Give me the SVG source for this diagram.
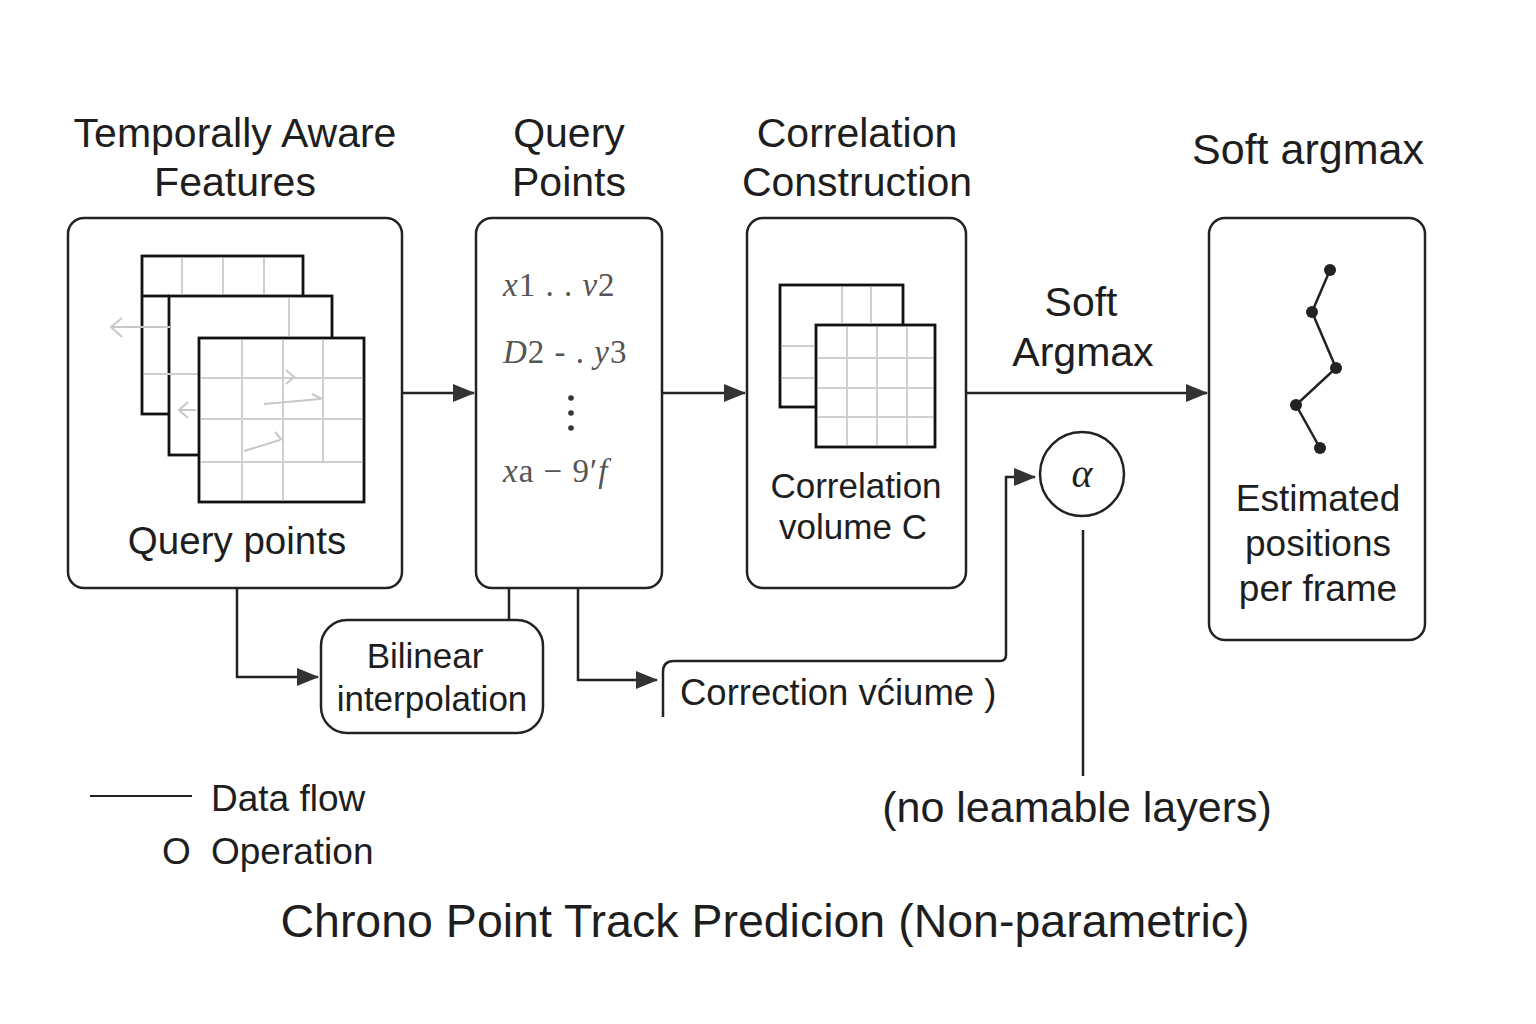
<svg xmlns="http://www.w3.org/2000/svg" width="1536" height="1024" viewBox="0 0 1536 1024">
<style>
text{font-family:"Liberation Sans",Arial,sans-serif;fill:#1e1e1e}
.box{fill:#fff;stroke:#222;stroke-width:2.5}
.frame{fill:#fff;stroke:#111;stroke-width:2.8}
.grid{stroke:#cfcfcf;stroke-width:2;fill:none}
.faint{stroke:#c8c8c8;stroke-width:2;fill:none}
.ln{stroke:#222;stroke-width:2.5;fill:none}
.h{font-size:41px;text-anchor:middle}
.lbl{font-size:35px;text-anchor:middle}
.math{font-family:"Liberation Serif","DejaVu Serif",serif;font-size:33px;fill:#555;letter-spacing:1px}
.mi{font-style:italic}
</style>
<defs>
<marker id="ah" markerWidth="10" markerHeight="10" refX="9" refY="5" orient="auto" markerUnits="userSpaceOnUse" viewBox="0 0 10 10">
<path d="M0,0 L10,5 L0,10 z" fill="#333"/>
</marker>
<marker id="ahL" markerWidth="22" markerHeight="18" refX="21" refY="9" orient="auto" markerUnits="userSpaceOnUse" viewBox="0 0 22 18">
<path d="M0,0 L22,9 L0,18 z" fill="#333"/>
</marker>
</defs>
<rect width="1536" height="1024" fill="#fff"/>

<g id="headers">
<text class="h" x="235" y="147">Temporally Aware</text>
<text class="h" x="235" y="196">Features</text>
<text class="h" x="569" y="147">Query</text>
<text class="h" x="569" y="196">Points</text>
<text class="h" x="857" y="147">Correlation</text>
<text class="h" x="857" y="196">Construction</text>
<text class="h" x="1308" y="164" style="font-size:43px">Soft argmax</text>
</g>

<g id="connectors">
<line class="ln" x1="402" y1="393" x2="474" y2="393" marker-end="url(#ahL)"/>
<line class="ln" x1="662" y1="393" x2="745" y2="393" marker-end="url(#ahL)"/>
<line class="ln" x1="966" y1="393" x2="1207" y2="393" marker-end="url(#ahL)"/>
<polyline class="ln" points="237,588 237,677 318,677" marker-end="url(#ahL)"/>
<polyline class="ln" points="509,620 509,525 590,525" marker-end="url(#ah)"/>
<polyline class="ln" points="578,588 578,680 657,680" marker-end="url(#ahL)"/>
<path class="ln" d="M663,717 L663,672 Q663,661 674,661 L1000,661 Q1006,661 1006,655 L1006,477 L1035,477" marker-end="url(#ahL)"/>
<line class="ln" x1="1083" y1="530" x2="1083" y2="776"/>
</g>

<g id="node-features">
<rect class="box" x="68" y="218" width="334" height="370" rx="16"/>
<rect class="frame" x="142" y="256" width="161" height="158"/>
<line class="grid" x1="182" y1="258" x2="182" y2="294"/>
<line class="grid" x1="223" y1="258" x2="223" y2="294"/>
<line class="grid" x1="264" y1="258" x2="264" y2="294"/>
<rect class="frame" x="169" y="296" width="163" height="159"/>
<line class="frame" x1="142" y1="296" x2="169" y2="296"/>
<line class="grid" x1="289" y1="298" x2="289" y2="336"/>
<line class="grid" x1="144" y1="374" x2="199" y2="374"/>
<path class="faint" d="M170,327 L112,327 M122,318 L111,327 L122,337"/>
<path class="faint" d="M196,410 L180,410 M188,402 L179,410 L188,418"/>
<rect class="frame" x="199" y="338" width="165" height="164"/>
<line class="grid" x1="242" y1="340" x2="242" y2="500"/>
<line class="grid" x1="283" y1="340" x2="283" y2="500"/>
<line class="grid" x1="323" y1="340" x2="323" y2="462"/>
<line class="grid" x1="201" y1="378" x2="362" y2="378"/>
<line class="grid" x1="201" y1="419" x2="362" y2="419"/>
<line class="grid" x1="201" y1="462" x2="362" y2="462"/>
<path class="faint" d="M264,404 L320,399 M312,394 L322,399 M286,370 L294,377 L286,384 M244,451 L280,440 M275,432 L282,440"/>
<text class="lbl" x="237" y="554" style="font-size:38.5px">Query points</text>
</g>

<g id="node-query">
<rect class="box" x="476" y="218" width="186" height="370" rx="16"/>
<text class="math" x="503" y="296"><tspan class="mi">x</tspan>1 . . <tspan class="mi">v</tspan>2</text>
<text class="math" x="503" y="363"><tspan class="mi">D</tspan>2 - . <tspan class="mi">y</tspan>3</text>
<circle cx="571" cy="398" r="2.8" fill="#333"/>
<circle cx="571" cy="413" r="2.8" fill="#333"/>
<circle cx="571" cy="428" r="2.8" fill="#333"/>
<text class="math" x="503" y="482"><tspan class="mi">x</tspan>a − 9′<tspan class="mi">f</tspan></text>
</g>

<g id="node-correlation">
<rect class="box" x="747" y="218" width="219" height="370" rx="16"/>
<rect class="frame" x="780" y="285" width="123" height="122"/>
<line class="grid" x1="842" y1="287" x2="842" y2="323"/>
<line class="grid" x1="871" y1="287" x2="871" y2="323"/>
<line class="grid" x1="782" y1="346" x2="814" y2="346"/>
<line class="grid" x1="782" y1="378" x2="814" y2="378"/>
<rect class="frame" x="816" y="325" width="119" height="122"/>
<line class="grid" x1="847" y1="327" x2="847" y2="445"/>
<line class="grid" x1="877" y1="327" x2="877" y2="445"/>
<line class="grid" x1="907" y1="327" x2="907" y2="445"/>
<line class="grid" x1="818" y1="358" x2="933" y2="358"/>
<line class="grid" x1="818" y1="388" x2="933" y2="388"/>
<line class="grid" x1="818" y1="417" x2="933" y2="417"/>
<text class="lbl" x="856" y="498">Correlation</text>
<text class="lbl" x="853" y="539">volume C</text>
</g>

<g id="node-softargmax-label">
<text class="h" x="1081" y="316">Soft</text>
<text class="h" x="1083" y="366">Argmax</text>
</g>

<g id="node-estimated">
<rect class="box" x="1209" y="218" width="216" height="422" rx="16"/>
<polyline points="1330,270 1312,312 1336,368 1296,405 1320,448" fill="none" stroke="#222" stroke-width="2.5"/>
<circle cx="1330" cy="270" r="6" fill="#222"/>
<circle cx="1312" cy="312" r="6" fill="#222"/>
<circle cx="1336" cy="368" r="6" fill="#222"/>
<circle cx="1296" cy="405" r="6" fill="#222"/>
<circle cx="1320" cy="448" r="6" fill="#222"/>
<text class="lbl" x="1318" y="511" style="font-size:37px">Estimated</text>
<text class="lbl" x="1318" y="556" style="font-size:37px">positions</text>
<text class="lbl" x="1318" y="601" style="font-size:37px">per frame</text>
</g>

<g id="node-alpha">
<circle cx="1082" cy="474" r="42" fill="#fff" stroke="#222" stroke-width="2.5"/>
<text x="1082" y="487" style="font-family:'Liberation Serif','DejaVu Serif',serif;font-style:italic;font-size:40px;text-anchor:middle">α</text>
</g>

<g id="node-bilinear">
<rect class="box" x="321" y="620" width="222" height="113" rx="26"/>
<text class="lbl" x="425" y="668">Bilinear</text>
<text class="lbl" x="432" y="711">interpolation</text>
</g>

<g id="node-correction">
<text x="680" y="705" style="font-size:36.5px">Correction vćiume )</text>
</g>

<g id="node-nolearn">
<text x="1077" y="822" style="font-size:43px;text-anchor:middle">(no leamable layers)</text>
</g>

<g id="legend">
<line x1="90" y1="796" x2="192" y2="796" stroke="#222" stroke-width="2"/>
<text x="211" y="811" style="font-size:37px">Data flow</text>
<text x="162" y="864" style="font-size:37px">O</text>
<text x="211" y="864" style="font-size:37px">Operation</text>
</g>

<g id="title">
<text x="765" y="937" style="font-size:46.5px;text-anchor:middle">Chrono Point Track Predicion (Non-parametric)</text>
</g>
</svg>
